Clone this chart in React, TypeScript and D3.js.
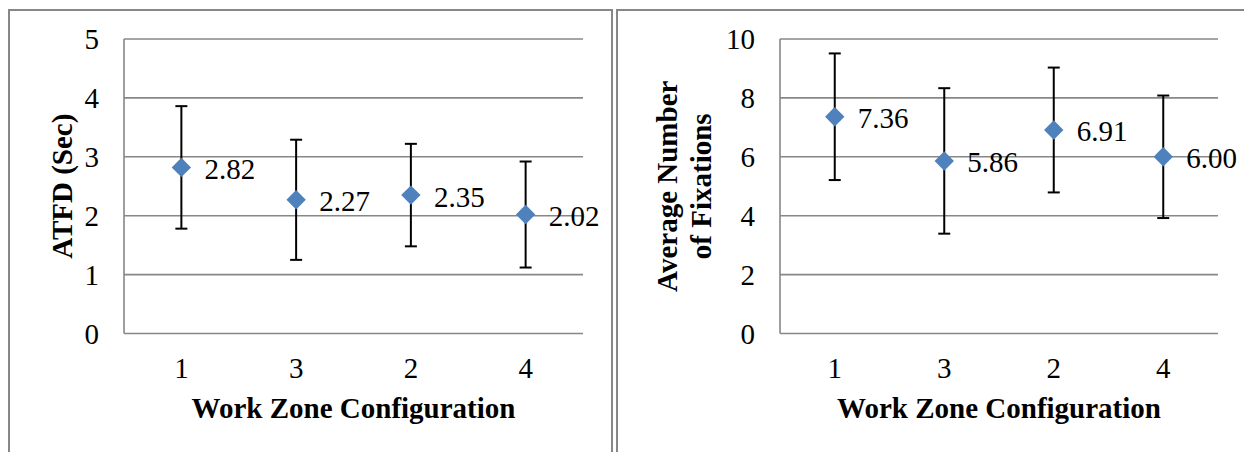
import React from "react";
import * as d3 from "d3";

const categories = ["1", "3", "2", "4"];
const atfdMean = [2.82, 2.27, 2.35, 2.02];
const atfdErr = [1.04, 1.02, 0.87, 0.9];
const fixMean = [7.36, 5.86, 6.91, 6.0];
const fixErr = [2.15, 2.47, 2.12, 2.08];
const atfdTicks = [0, 1, 2, 3, 4, 5];
const fixTicks = [0, 2, 4, 6, 8, 10];

const FONT = "'Liberation Serif', 'Times New Roman', serif";
const GRID = "#878787";
const MARK = "#4F81BD";

type PanelProps = {
  x0: number;
  x1: number;
  means: number[];
  errs: number[];
  ticks: number[];
  yMax: number;
  titleLines: string[];
  titleX: number;
};

function Panel({ x0, x1, means, errs, ticks, yMax, titleLines, titleX }: PanelProps) {
  const top = 39;
  const bottom = 333.5;
  const x = d3.scaleBand<string>().domain(categories).range([x0, x1]);
  const y = d3.scaleLinear().domain([0, yMax]).range([bottom, top]);
  const fmt = d3.format(".2f");
  const diamond = d3.symbol().type(d3.symbolDiamond2 ?? d3.symbolDiamond).size(240)();
  const cx = (c: string) => (x(c) as number) + x.bandwidth() / 2;
  const midY = (top + bottom) / 2;
  const lineGap = 34;
  return (
    <g>
      {ticks.map((t) => (
        <line key={"g" + t} x1={x0} x2={x1} y1={y(t)} y2={y(t)} stroke={GRID} strokeWidth={1.6} />
      ))}
      <line x1={x0} x2={x0} y1={top} y2={bottom} stroke={GRID} strokeWidth={1.6} />
      {ticks.map((t) => (
        <text key={"t" + t} x={x0 - 25} y={y(t)} dy="0.36em" textAnchor="end" fontFamily={FONT} fontSize={29} fill="#000">
          {t}
        </text>
      ))}
      {categories.map((c) => (
        <text key={"x" + c} x={cx(c)} y={378} textAnchor="middle" fontFamily={FONT} fontSize={29} fill="#000">
          {c}
        </text>
      ))}
      <text x={(x0 + x1) / 2} y={418} textAnchor="middle" fontFamily={FONT} fontSize={29} fontWeight="bold" fill="#000">
        Work Zone Configuration
      </text>
      {titleLines.map((l, i) => (
        <text
          key={"yt" + i}
          transform={`translate(${titleX + i * lineGap},${midY}) rotate(-90)`}
          textAnchor="middle"
          fontFamily={FONT}
          fontSize={29}
          fontWeight="bold"
          fill="#000"
        >
          {l}
        </text>
      ))}
      {categories.map((c, i) => {
        const px = cx(c);
        const hi = y(means[i] + errs[i]);
        const lo = y(means[i] - errs[i]);
        return (
          <g key={"e" + c}>
            <line x1={px} x2={px} y1={hi} y2={lo} stroke="#000" strokeWidth={2} />
            <line x1={px - 6} x2={px + 6} y1={hi} y2={hi} stroke="#000" strokeWidth={2} />
            <line x1={px - 6} x2={px + 6} y1={lo} y2={lo} stroke="#000" strokeWidth={2} />
          </g>
        );
      })}
      {categories.map((c, i) => (
        <path key={"m" + c} d={diamond || ""} transform={`translate(${cx(c)},${y(means[i])})`} fill={MARK} />
      ))}
      {categories.map((c, i) => (
        <text key={"l" + c} x={cx(c) + 23} y={y(means[i]) + 1} dy="0.36em" fontFamily={FONT} fontSize={29} fill="#000">
          {fmt(means[i])}
        </text>
      ))}
    </g>
  );
}

export default function App() {
  return (
    <svg
      width={1244}
      height={452}
      style={{ position: "absolute", left: 0, top: 0, background: "#fff" }}
    >
      <rect x={0} y={0} width={1244} height={452} fill="#fff" />
      <rect x={9} y={10} width={603} height={460} fill="none" stroke={GRID} strokeWidth={2} />
      <rect x={617} y={10} width={700} height={460} fill="none" stroke={GRID} strokeWidth={2} />
      <Panel x0={124} x1={583} means={atfdMean} errs={atfdErr} ticks={atfdTicks} yMax={5} titleLines={["ATFD (Sec)"]} titleX={72} />
      <Panel
        x0={780}
        x1={1218}
        means={fixMean}
        errs={fixErr}
        ticks={fixTicks}
        yMax={10}
        titleLines={["Average Number", "of Fixations"]}
        titleX={677}
      />
    </svg>
  );
}
